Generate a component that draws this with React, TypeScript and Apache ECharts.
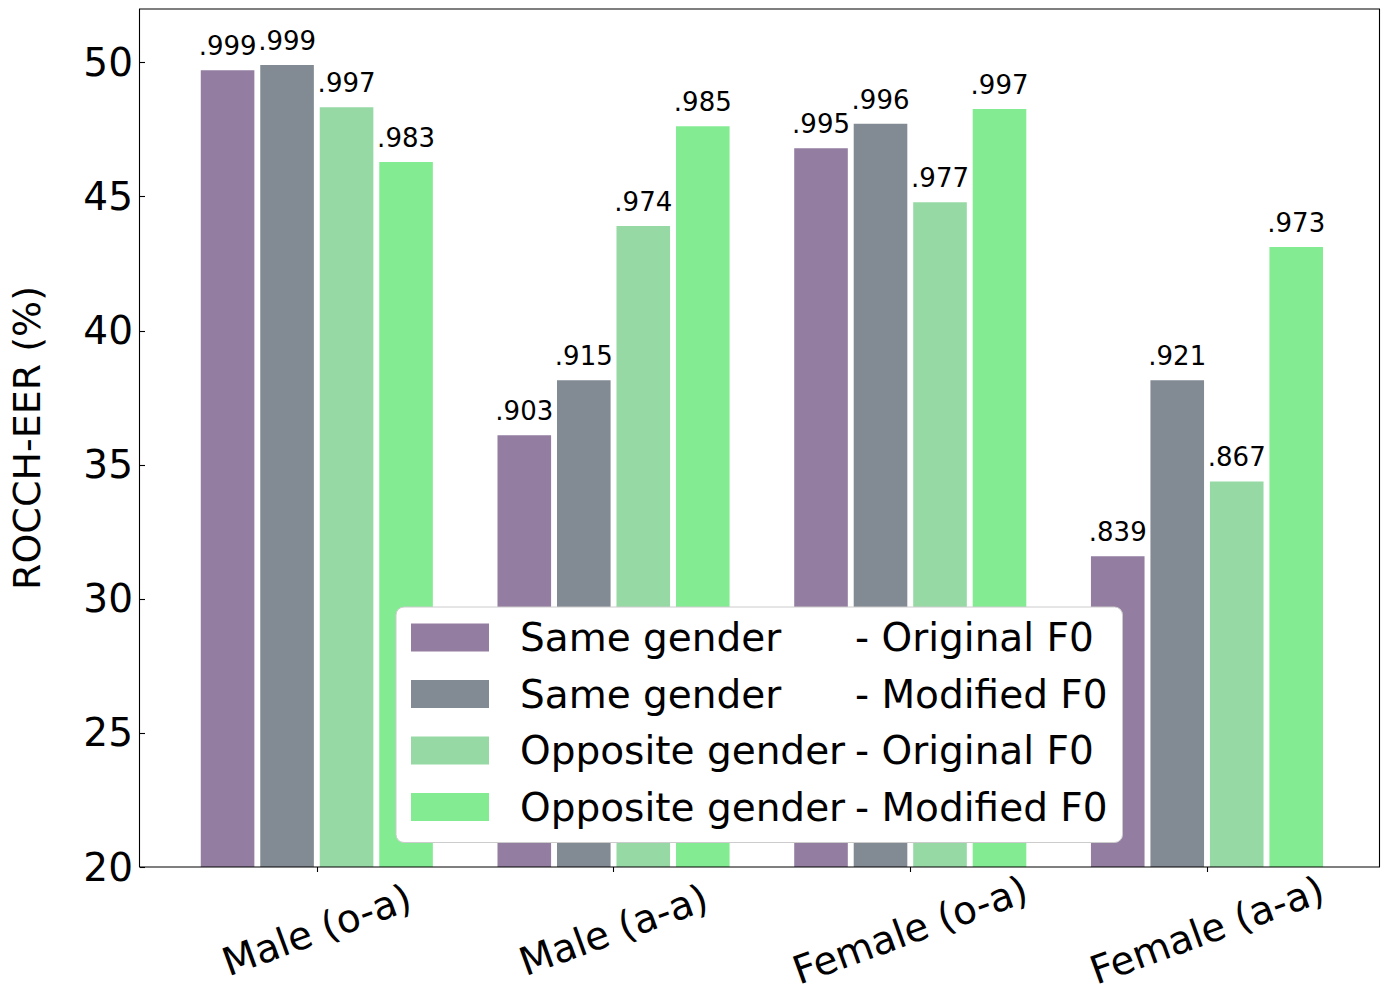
import React, { useEffect, useRef } from 'react';
import * as echarts from 'echarts';

const categories = ['Male (o-a)', 'Male (a-a)', 'Female (o-a)', 'Female (a-a)'];
const seriesNames = [
  'Same gender - Original F0',
  'Same gender - Modified F0',
  'Opposite gender - Original F0',
  'Opposite gender - Modified F0',
];
const sameOriginal = [49.72, 36.1, 46.81, 31.59];
const sameModified = [49.91, 38.15, 47.72, 38.15];
const oppOriginal = [48.34, 43.91, 44.79, 34.38];
const oppModified = [46.29, 47.63, 48.27, 43.12];
const sameOriginalLabels = ['.999', '.903', '.995', '.839'];
const sameModifiedLabels = ['.999', '.915', '.996', '.921'];
const oppOriginalLabels = ['.997', '.974', '.977', '.867'];
const oppModifiedLabels = ['.983', '.985', '.997', '.973'];
const yTicks = [20, 25, 30, 35, 40, 45, 50];
const colors = ['#937DA0', '#828A93', '#96D9A4', '#83EC93'];

const FONT = 'DejaVu Sans';

export default function App() {
  const ref = useRef<HTMLDivElement>(null);
  useEffect(() => {
    document.body.style.margin = '0';
    if (!ref.current) return;
    const chart = echarts.init(ref.current, undefined, { renderer: 'svg' });
    const values = [sameOriginal, sameModified, oppOriginal, oppModified];
    const labels = [sameOriginalLabels, sameModifiedLabels, oppOriginalLabels, oppModifiedLabels];
    const frameLeft = 139.5;
    const frameTop = 9;
    const frameWidth = 1240;
    const frameHeight = 858;
    const step = 298.1;
    const gridLeft = 312 - step / 2;
    chart.setOption({
      animation: false,
      backgroundColor: '#ffffff',
      textStyle: { fontFamily: FONT },
      grid: [
        {
          left: gridLeft,
          top: frameTop,
          width: step * 4,
          height: frameHeight,
          containLabel: false,
        },
        {
          left: frameLeft,
          top: frameTop,
          width: frameWidth,
          height: frameHeight,
          show: true,
          borderColor: '#000000',
          borderWidth: 1.1,
          backgroundColor: 'transparent',
          z: 10,
        },
      ],
      legend: {
        orient: 'vertical',
        left: 396,
        top: 607,
        icon: 'rect',
        itemWidth: 78,
        itemHeight: 28,
        itemGap: 17.5,
        selectedMode: false,
        backgroundColor: '#ffffff',
        borderColor: '#cccccc',
        borderWidth: 1,
        borderRadius: 8,
        padding: [11, 15, 16, 15],
        data: seriesNames,
        formatter: (name: string) => {
          const parts = name.split(' - ');
          return `{a|${parts[0]}}{b|- ${parts[1]}}`;
        },
        textStyle: {
          fontFamily: FONT,
          fontSize: 39,
          color: '#000000',
          rich: {
            a: { fontFamily: FONT, fontSize: 39, lineHeight: 40, width: 335, padding: [0, 0, 0, 26], color: '#000000' },
            b: { fontFamily: FONT, fontSize: 39, lineHeight: 40, color: '#000000' },
          },
        },
      },
      xAxis: [
        {
          type: 'category',
          gridIndex: 0,
          data: categories,
          boundaryGap: true,
          axisLine: { show: false },
          axisTick: { show: true, alignWithLabel: true, length: 5, lineStyle: { color: '#000000', width: 1.1 } },
          axisLabel: {
            rotate: 20,
            align: 'center',
            verticalAlign: 'middle',
            margin: 63,
            fontSize: 39,
            fontFamily: FONT,
            color: '#000000',
            interval: 0,
          },
          splitLine: { show: false },
        },
        { type: 'value', gridIndex: 1, show: false, min: 0, max: 1 },
      ],
      yAxis: [
        {
          type: 'value',
          gridIndex: 0,
          min: 20,
          max: 52,
          offset: gridLeft - frameLeft,
          name: 'ROCCH-EER (%)',
          nameLocation: 'middle',
          nameRotate: 90,
          nameGap: 99,
          nameTextStyle: { fontFamily: FONT, fontSize: 38, color: '#000000' },
          axisLine: { show: false },
          axisTick: { show: true, length: 5, customValues: yTicks, lineStyle: { color: '#000000', width: 1.1 } },
          axisLabel: {
            customValues: yTicks,
            fontSize: 39,
            fontFamily: FONT,
            color: '#000000',
            margin: 12,
          },
          splitLine: { show: false },
        },
        { type: 'value', gridIndex: 1, show: false, min: 0, max: 1 },
      ],
      series: seriesNames.map((name, i) => ({
        name,
        type: 'bar',
        xAxisIndex: 0,
        yAxisIndex: 0,
        data: values[i],
        barWidth: 53.6,
        barGap: '11%',
        itemStyle: { color: colors[i] },
        label: {
          show: true,
          position: 'top',
          distance: 11,
          fontFamily: FONT,
          fontSize: 26,
          lineHeight: 26,
          color: '#000000',
          formatter: (p: any) => labels[i][p.dataIndex],
        },
      })),
    });
    return () => chart.dispose();
  }, []);
  return <div ref={ref} style={{ position: 'absolute', left: 0, top: 0, width: 1389, height: 1007 }} />;
}
